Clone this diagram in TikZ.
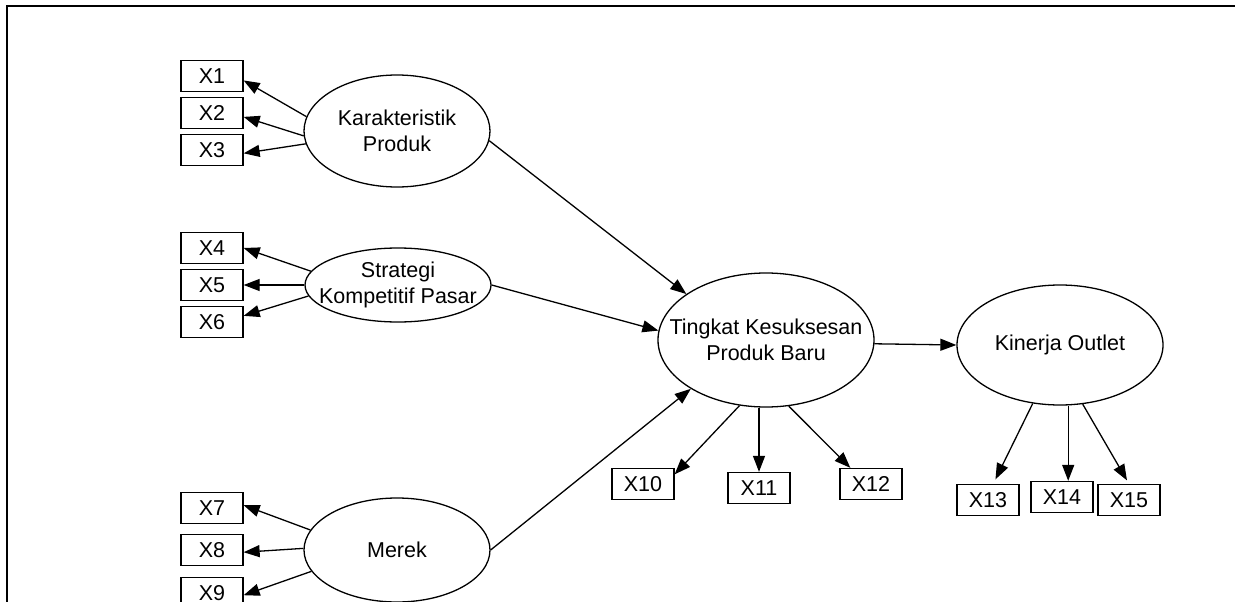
\documentclass[tikz,border=0pt]{standalone}
\usepackage{fontspec}
\setmainfont{Liberation Sans}
\usetikzlibrary{arrows.meta,shapes.geometric}
\begin{document}
\begin{tikzpicture}[x=1pt,y=-1pt,
  txt/.style={font=\fontsize{21.5}{26}\selectfont},
  lab/.style={txt, align=center, inner sep=0pt},
  latent/.style={ellipse, draw, line width=1.3pt, inner sep=0pt},
  indicator/.style={rectangle, draw, line width=1.3pt, minimum width=62pt,
    minimum height=31pt, inner sep=0pt, txt},
  link/.style={line width=1.3pt, -{Triangle[length=16pt,width=12pt]}}
]
\useasboundingbox (0,0) rectangle (1235,602);
\clip (0,0) rectangle (1235,602);

% outer frame
\draw[line width=2.2pt] (7,615) -- (7,6) -- (1245,6);

% latent constructs
\node[latent, minimum width=186pt, minimum height=112pt,
  label={[lab]center:Karakteristik\\Produk}] (K) at (397,131) {};
\node[latent, minimum width=186pt, minimum height=74pt,
  label={[lab]center:Strategi\\Kompetitif Pasar}] (S) at (398,285) {};
\node[latent, minimum width=186pt, minimum height=104pt,
  label={[lab]center:Merek}] (M) at (397,550) {};
\node[latent, minimum width=216pt, minimum height=134pt,
  label={[lab]center:Tingkat Kesuksesan\\Produk Baru}] (T) at (766,340) {};
\node[latent, minimum width=206pt, minimum height=120pt,
  label={[lab]center:Kinerja Outlet}] (KO) at (1060,345) {};

% indicators
\node[indicator] (X1) at (212,76) {X1};
\node[indicator] (X2) at (212,113) {X2};
\node[indicator] (X3) at (212,150) {X3};
\node[indicator] (X4) at (212,248) {X4};
\node[indicator] (X5) at (212,285) {X5};
\node[indicator] (X6) at (212,322) {X6};
\node[indicator] (X7) at (212,508) {X7};
\node[indicator] (X8) at (212,550) {X8};
\node[indicator] (X9) at (212,593) {X9};
\node[indicator] (X10) at (643,484) {X10};
\node[indicator] (X11) at (759,488) {X11};
\node[indicator] (X12) at (871,484) {X12};
\node[indicator] (X13) at (988,500) {X13};
\node[indicator] (X14) at (1062,497) {X14};
\node[indicator] (X15) at (1129,500) {X15};

% measurement paths
\draw[link] (K.171) -- (X1.-8);
\draw[link] (K.183) -- (X2.-7);
\draw[link] (K.188) -- (X3.-6);
\draw[link] (S.171) -- (X4.east);
\draw[link] (S.west) -- (X5.east);
\draw[link] (S.187) -- (X6.11);
\draw[link] (M.167) -- (X7.5);
\draw[link] (M.179) -- (X8.-4);
\draw[link] (M.194) -- (X9.-4);
\draw[link] (T.248) -- (X10.17);
\draw[link] (T.south -| X11.north) -- (X11.north);
\draw[link] (T.-71) -- (X12.142);
\draw[link, shorten >=5pt] (KO.245) -- (X13.72);
\draw[link] (KO.south -| X14.69) -- (X14.69);
\draw[link, shorten >=4pt] (KO.-69) -- (X15.north);

% structural paths
\draw[link] (K.-6) -- (T.150);
\draw[link] (S.east) -- (T.175);
\draw[link] (M.east) -- (T.213);
\draw[link] (T.-2.7) -- (KO.west);
\end{tikzpicture}
\end{document}
